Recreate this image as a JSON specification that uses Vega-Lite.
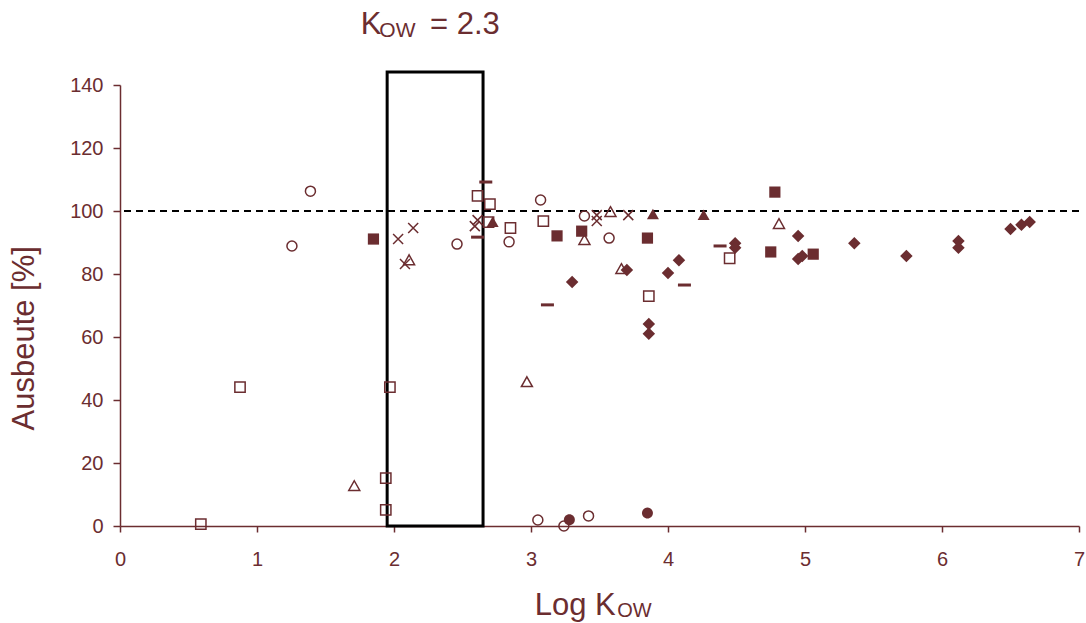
{
  "$schema": "https://vega.github.io/schema/vega-lite/v6.json",
  "width": 959,
  "height": 441,
  "autosize": {"type": "none"},
  "padding": {"left": 120, "top": 85, "right": 7, "bottom": 97},
  "background": "white",
  "config": {
    "view": {"stroke": null},
    "font": "Liberation Sans",
    "axis": {
      "grid": false,
      "domainColor": "#6b2d30",
      "domainWidth": 1.5,
      "tickColor": "#6b2d30",
      "tickWidth": 1.5,
      "labelColor": "#6b2d30",
      "labelFont": "Liberation Sans",
      "labelFontSize": 20,
      "labelFlush": false,
      "labelOverlap": false,
      "titleColor": "#6b2d30",
      "titleFont": "Liberation Sans",
      "titleFontSize": 31,
      "titleFontWeight": "normal"
    }
  },
  "datasets": {
    "points": [
      {"series": "circle-open", "logKow": 1.39, "ausbeute": 106.3},
      {"series": "circle-open", "logKow": 1.255, "ausbeute": 88.9},
      {"series": "circle-open", "logKow": 2.46, "ausbeute": 89.5},
      {"series": "circle-open", "logKow": 2.84, "ausbeute": 90.2},
      {"series": "circle-open", "logKow": 3.07, "ausbeute": 103.5},
      {"series": "circle-open", "logKow": 3.39, "ausbeute": 98.4},
      {"series": "circle-open", "logKow": 3.57, "ausbeute": 91.4},
      {"series": "circle-open", "logKow": 3.05, "ausbeute": 1.9},
      {"series": "circle-open", "logKow": 3.24, "ausbeute": 0.0},
      {"series": "circle-open", "logKow": 3.42, "ausbeute": 3.2},
      {"series": "square-open", "logKow": 0.59, "ausbeute": 0.6},
      {"series": "square-open", "logKow": 0.876, "ausbeute": 44.1},
      {"series": "square-open", "logKow": 1.97, "ausbeute": 44.1},
      {"series": "square-open", "logKow": 1.94, "ausbeute": 15.2},
      {"series": "square-open", "logKow": 1.94, "ausbeute": 5.1},
      {"series": "square-open", "logKow": 2.61, "ausbeute": 104.8},
      {"series": "square-open", "logKow": 2.70, "ausbeute": 102.2},
      {"series": "square-open", "logKow": 2.69, "ausbeute": 96.5},
      {"series": "square-open", "logKow": 2.85, "ausbeute": 94.6},
      {"series": "square-open", "logKow": 3.09, "ausbeute": 96.8},
      {"series": "square-open", "logKow": 3.86, "ausbeute": 73.0},
      {"series": "square-open", "logKow": 4.45, "ausbeute": 85.0},
      {"series": "triangle-open", "logKow": 1.71, "ausbeute": 12.7},
      {"series": "triangle-open", "logKow": 2.11, "ausbeute": 84.4},
      {"series": "triangle-open", "logKow": 2.97, "ausbeute": 45.7},
      {"series": "triangle-open", "logKow": 3.39, "ausbeute": 90.8},
      {"series": "triangle-open", "logKow": 3.58, "ausbeute": 99.7},
      {"series": "triangle-open", "logKow": 3.66, "ausbeute": 81.6},
      {"series": "triangle-open", "logKow": 4.81, "ausbeute": 95.9},
      {"series": "x", "logKow": 2.03, "ausbeute": 91.1},
      {"series": "x", "logKow": 2.14, "ausbeute": 94.6},
      {"series": "x", "logKow": 2.08, "ausbeute": 83.2},
      {"series": "x", "logKow": 2.59, "ausbeute": 95.2},
      {"series": "x", "logKow": 2.61, "ausbeute": 97.1},
      {"series": "x", "logKow": 3.48, "ausbeute": 98.7},
      {"series": "x", "logKow": 3.48, "ausbeute": 96.8},
      {"series": "x", "logKow": 3.71, "ausbeute": 98.7},
      {"series": "square-filled", "logKow": 1.85, "ausbeute": 91.1},
      {"series": "square-filled", "logKow": 3.19, "ausbeute": 92.1},
      {"series": "square-filled", "logKow": 3.37, "ausbeute": 93.6},
      {"series": "square-filled", "logKow": 3.85, "ausbeute": 91.4},
      {"series": "square-filled", "logKow": 4.78, "ausbeute": 106.0},
      {"series": "square-filled", "logKow": 4.75, "ausbeute": 87.0},
      {"series": "square-filled", "logKow": 5.06, "ausbeute": 86.3},
      {"series": "triangle-filled", "logKow": 2.72, "ausbeute": 96.5},
      {"series": "triangle-filled", "logKow": 3.89, "ausbeute": 99.0},
      {"series": "triangle-filled", "logKow": 4.26, "ausbeute": 98.7},
      {"series": "diamond", "logKow": 3.30, "ausbeute": 77.5},
      {"series": "diamond", "logKow": 3.70, "ausbeute": 81.3},
      {"series": "diamond", "logKow": 4.00, "ausbeute": 80.3},
      {"series": "diamond", "logKow": 4.08, "ausbeute": 84.4},
      {"series": "diamond", "logKow": 3.86, "ausbeute": 64.1},
      {"series": "diamond", "logKow": 3.86, "ausbeute": 61.0},
      {"series": "diamond", "logKow": 4.49, "ausbeute": 89.8},
      {"series": "diamond", "logKow": 4.49, "ausbeute": 88.3},
      {"series": "diamond", "logKow": 4.95, "ausbeute": 92.1},
      {"series": "diamond", "logKow": 4.95, "ausbeute": 84.8},
      {"series": "diamond", "logKow": 4.98, "ausbeute": 85.7},
      {"series": "diamond", "logKow": 5.36, "ausbeute": 89.8},
      {"series": "diamond", "logKow": 5.74, "ausbeute": 85.7},
      {"series": "diamond", "logKow": 6.12, "ausbeute": 90.5},
      {"series": "diamond", "logKow": 6.12, "ausbeute": 88.3},
      {"series": "diamond", "logKow": 6.50, "ausbeute": 94.3},
      {"series": "diamond", "logKow": 6.58, "ausbeute": 95.6},
      {"series": "diamond", "logKow": 6.64, "ausbeute": 96.5},
      {"series": "circle-filled", "logKow": 3.28, "ausbeute": 2.0},
      {"series": "circle-filled", "logKow": 3.85, "ausbeute": 4.1},
      {"series": "dash", "logKow": 2.67, "ausbeute": 109.2},
      {"series": "dash", "logKow": 2.61, "ausbeute": 91.7},
      {"series": "dash", "logKow": 3.12, "ausbeute": 70.2},
      {"series": "dash", "logKow": 4.12, "ausbeute": 76.5},
      {"series": "dash", "logKow": 4.38, "ausbeute": 88.9}
    ],
    "box": [{"x0": 1.95, "x1": 2.65, "y0": 0, "y1": 144.1}],
    "one": [{}]
  },
  "layer": [
    {
      "data": {"name": "box"},
      "mark": {"type": "rect", "fill": null, "stroke": "black", "strokeWidth": 3},
      "encoding": {
        "x": {"field": "x0", "type": "quantitative", "scale": {"domain": [0, 7], "nice": false, "zero": false},
          "axis": {"values": [0, 1, 2, 3, 4, 5, 6, 7], "format": "d", "tickSize": 6, "labelPadding": 17, "title": null}},
        "x2": {"field": "x1"},
        "y": {"field": "y0", "type": "quantitative", "scale": {"domain": [0, 140], "nice": false},
          "axis": {"values": [0, 20, 40, 60, 80, 100, 120, 140], "format": "d", "tickSize": 7, "labelPadding": 10,
            "title": "Ausbeute [%]", "titleAngle": -90, "titleAlign": "left", "titleBaseline": "alphabetic", "titleX": -86.7, "titleY": 345}},
        "y2": {"field": "y1"}
      }
    },
    {
      "data": {"name": "one"},
      "mark": {"type": "rule", "color": "black", "strokeWidth": 2, "strokeDash": [7, 5]},
      "encoding": {"y": {"datum": 100, "type": "quantitative"}}
    },
    {
      "data": {"name": "points"},
      "transform": [{"filter": {"field": "series", "oneOf": ["circle-open", "square-open", "triangle-open", "x"]}}],
      "mark": {"type": "point", "filled": false, "strokeWidth": 1.5, "size": 100, "opacity": 1, "color": "#6b2d30"},
      "encoding": {
        "x": {"field": "logKow", "type": "quantitative"},
        "y": {"field": "ausbeute", "type": "quantitative"},
        "shape": {"field": "series", "type": "nominal", "legend": null,
          "scale": {
            "domain": ["circle-open", "square-open", "triangle-open", "x", "square-filled", "triangle-filled", "diamond", "circle-filled", "dash"],
            "range": ["M-1,0A1,1,0,1,1,1,0A1,1,0,1,1,-1,0Z", "M-1.03,-1.03H1.03V1.03H-1.03Z", "M0,-1.05L1.1,0.9L-1.1,0.9Z", "M-1,-1L1,1M-1,1L1,-1", "M-1.12,-1.12H1.12V1.12H-1.12Z", "M0,-1.1L1.2,1L-1.2,1Z", "M0,-1.25L1.25,0L0,1.25L-1.25,0Z", "M-1.1,0A1.1,1.1,0,1,1,1.1,0A1.1,1.1,0,1,1,-1.1,0Z", "M-1.3,-0.3H1.3V0.3H-1.3Z"]
          }}
      }
    },
    {
      "data": {"name": "points"},
      "transform": [{"filter": {"field": "series", "oneOf": ["square-filled", "triangle-filled", "diamond", "circle-filled", "dash"]}}],
      "mark": {"type": "point", "filled": true, "size": 100, "opacity": 1, "color": "#6b2d30"},
      "encoding": {
        "x": {"field": "logKow", "type": "quantitative"},
        "y": {"field": "ausbeute", "type": "quantitative"},
        "shape": {"field": "series", "type": "nominal", "legend": null,
          "scale": {
            "domain": ["circle-open", "square-open", "triangle-open", "x", "square-filled", "triangle-filled", "diamond", "circle-filled", "dash"],
            "range": ["M-1,0A1,1,0,1,1,1,0A1,1,0,1,1,-1,0Z", "M-1.03,-1.03H1.03V1.03H-1.03Z", "M0,-1.05L1.1,0.9L-1.1,0.9Z", "M-1,-1L1,1M-1,1L1,-1", "M-1.12,-1.12H1.12V1.12H-1.12Z", "M0,-1.1L1.2,1L-1.2,1Z", "M0,-1.25L1.25,0L0,1.25L-1.25,0Z", "M-1.1,0A1.1,1.1,0,1,1,1.1,0A1.1,1.1,0,1,1,-1.1,0Z", "M-1.3,-0.3H1.3V0.3H-1.3Z"]
          }}
      }
    },
    {
      "data": {"name": "one"},
      "mark": {"type": "text", "text": "K", "align": "left", "baseline": "alphabetic", "fontSize": 31, "color": "#6b2d30", "font": "Liberation Sans"},
      "encoding": {"x": {"datum": 1.757, "type": "quantitative"}, "y": {"datum": 156.1, "type": "quantitative"}}
    },
    {
      "data": {"name": "one"},
      "mark": {"type": "text", "text": "OW", "align": "left", "baseline": "alphabetic", "fontSize": 21, "color": "#6b2d30", "font": "Liberation Sans"},
      "encoding": {"x": {"datum": 1.893, "type": "quantitative"}, "y": {"datum": 155.3, "type": "quantitative"}}
    },
    {
      "data": {"name": "one"},
      "mark": {"type": "text", "text": "= 2.3", "align": "left", "baseline": "alphabetic", "fontSize": 31, "color": "#6b2d30", "font": "Liberation Sans"},
      "encoding": {"x": {"datum": 2.263, "type": "quantitative"}, "y": {"datum": 156.1, "type": "quantitative"}}
    },
    {
      "data": {"name": "one"},
      "mark": {"type": "text", "text": "Log", "align": "left", "baseline": "alphabetic", "fontSize": 31, "color": "#6b2d30", "font": "Liberation Sans"},
      "encoding": {"x": {"datum": 3.027, "type": "quantitative"}, "y": {"datum": -28.25, "type": "quantitative"}}
    },
    {
      "data": {"name": "one"},
      "mark": {"type": "text", "text": "K", "align": "left", "baseline": "alphabetic", "fontSize": 31, "color": "#6b2d30", "font": "Liberation Sans"},
      "encoding": {"x": {"datum": 3.467, "type": "quantitative"}, "y": {"datum": -28.25, "type": "quantitative"}}
    },
    {
      "data": {"name": "one"},
      "mark": {"type": "text", "text": "OW", "align": "left", "baseline": "alphabetic", "fontSize": 20, "color": "#6b2d30", "font": "Liberation Sans"},
      "encoding": {"x": {"datum": 3.63, "type": "quantitative"}, "y": {"datum": -29.0, "type": "quantitative"}}
    }
  ]
}
